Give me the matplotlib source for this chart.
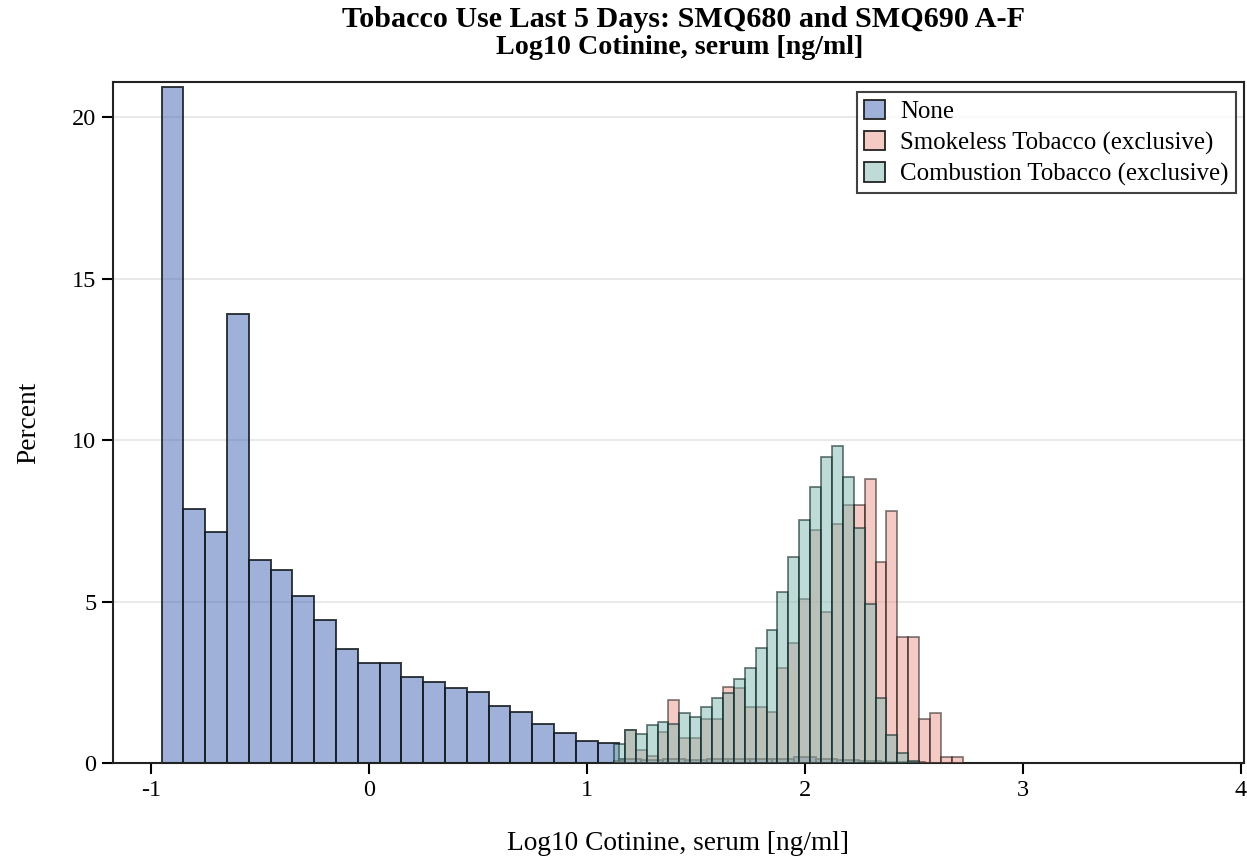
import numpy as np
import matplotlib.pyplot as plt
from matplotlib.colors import to_rgb
from matplotlib.patches import Patch

# None: 0.1-wide bins centred at -0.9 ... 3.8
none_centers = np.round(np.arange(-0.9, 3.85, 0.1), 2)
none_pct = [20.95, 7.86, 7.16, 13.91, 6.28, 5.99, 5.17, 4.44, 3.53, 3.10,
            3.10, 2.66, 2.52, 2.33, 2.21, 1.77, 1.57, 1.21, 0.92, 0.68,
            0.62, 0.12, 0.10, 0.11, 0.10, 0.12, 0.11, 0.12, 0.12, 0.19,
            0.13, 0.09, 0.05, 0.03, 0.02, 0.01, 0.01, 0.01, 0.01, 0.01,
            0.01, 0.01, 0.01, 0.01, 0.01, 0.01, 0.01, 0.01]

# Smokeless tobacco: 0.05-wide bins centred at 1.15 ... 2.70
smokeless_centers = np.round(np.arange(1.15, 2.725, 0.05), 3)
smokeless_pct = [0.05, 1.01, 0.41, 0.21, 0.97, 1.94, 0.77, 0.77, 1.36, 1.36,
                 2.34, 2.32, 1.74, 1.74, 1.57, 2.94, 3.71, 5.07, 7.21, 4.67,
                 7.39, 7.99, 7.99, 8.80, 6.24, 7.80, 3.90, 3.90, 1.37, 1.56,
                 0.20, 0.20]

# Combustion tobacco: 0.05-wide bins centred at 1.15 ... 2.50
combustion_centers = np.round(np.arange(1.15, 2.525, 0.05), 3)
combustion_pct = [0.60, 1.01, 0.89, 1.18, 1.27, 1.20, 1.55, 1.44, 1.73, 2.00,
                  2.17, 2.59, 2.93, 3.55, 4.11, 5.31, 6.37, 7.54, 8.56, 9.49,
                  9.83, 8.87, 7.29, 4.93, 2.02, 0.87, 0.30, 0.06]

labels = ['None', 'Smokeless Tobacco (exclusive)', 'Combustion Tobacco (exclusive)']
colors = ['#4165b5', '#e8988b', '#81b9b1']
x_ticks = [-1, 0, 1, 2, 3, 4]
y_ticks = [0, 5, 10, 15, 20]

plt.rcParams['font.family'] = ['Liberation Serif', 'DejaVu Serif']
plt.rcParams['axes.unicode_minus'] = False


def fill(c, a=0.5):
    return (*to_rgb(c), a)


fig = plt.figure(figsize=(12.47, 8.6), dpi=100)
ax = fig.add_axes([0.0906, 0.1128, 0.9070, 0.7919])

for y in y_ticks[1:]:
    ax.axhline(y, color='#e9e9e9', lw=1.5, zorder=0)

ax.bar(none_centers, none_pct, width=0.1, facecolor=fill(colors[0]),
       edgecolor=(0.08, 0.1, 0.12, 0.85), linewidth=1.4, zorder=2)
ax.bar(smokeless_centers, smokeless_pct, width=0.05, facecolor=fill(colors[1]),
       edgecolor=(0.15, 0.1, 0.1, 0.55), linewidth=1.3, zorder=3)
ax.bar(combustion_centers, combustion_pct, width=0.05, facecolor=fill(colors[2]),
       edgecolor=(0.05, 0.15, 0.15, 0.6), linewidth=1.3, zorder=4)

ax.set_xlim(-1.173, 4.015)
ax.set_ylim(0, 21.1)
ax.set_xticks(x_ticks)
ax.set_yticks(y_ticks)
ax.tick_params(axis='both', direction='out', length=8, width=1.5,
               labelsize=17.5, pad=4)
for s in ax.spines.values():
    s.set_linewidth(1.5)
    s.set_color('#222222')

ax.set_xlabel('Log10 Cotinine, serum [ng/ml]', fontsize=19.7, labelpad=22)
ax.set_ylabel('Percent', fontsize=19.7, labelpad=22)

fig.text(0.548, 0.977, 'Tobacco Use Last 5 Days: SMQ680 and SMQ690 A-F',
         ha='center', va='center', fontsize=21.7, fontweight='bold')
fig.text(0.545, 0.945, 'Log10 Cotinine, serum [ng/ml]',
         ha='center', va='center', fontsize=20.2, fontweight='bold')

handles = [Patch(facecolor=fill(c), edgecolor='#222222', linewidth=1.3)
           for c in colors]
leg = ax.legend(handles, labels, loc='upper right',
                bbox_to_anchor=(0.993, 0.985), borderaxespad=0,
                fontsize=17.9, frameon=True, fancybox=False,
                handlelength=0.85, handleheight=0.85, handletextpad=0.6,
                labelspacing=0.3, borderpad=0.3)
leg.get_frame().set_edgecolor('#111111')
leg.get_frame().set_linewidth(1.5)

fig.savefig('out.png', dpi=100)
